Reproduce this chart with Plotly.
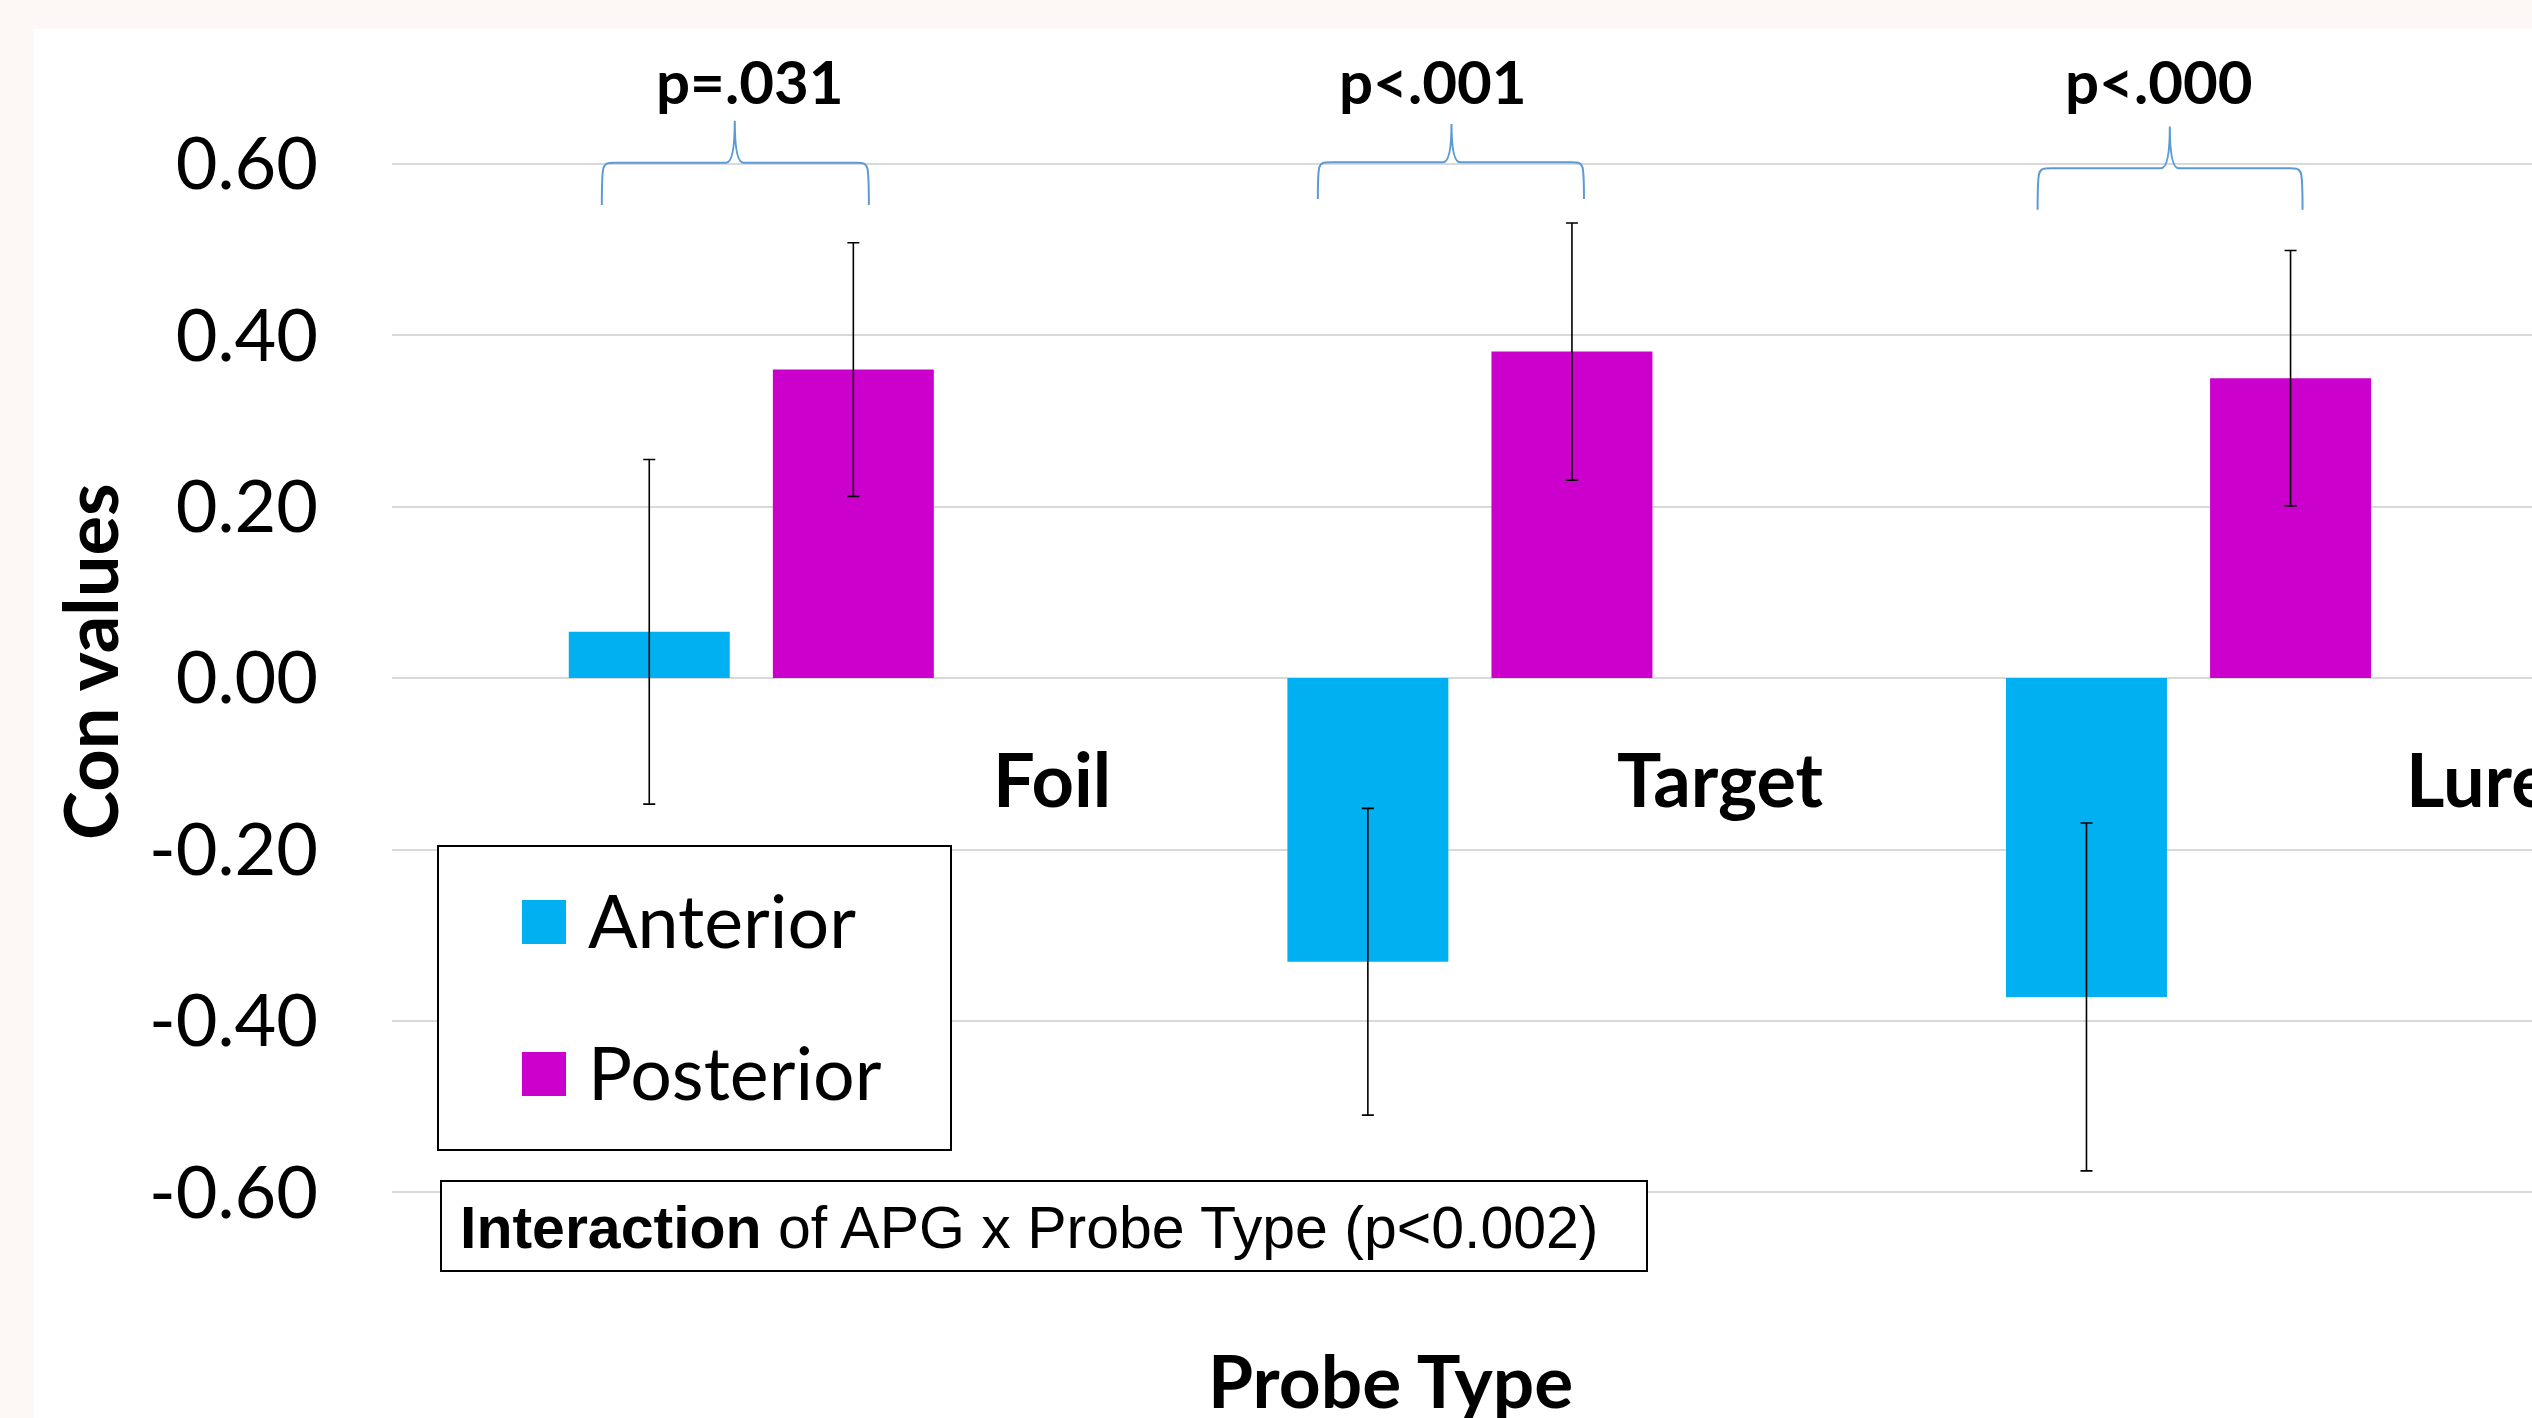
import plotly.graph_objects as go

# ---------------- data ----------------
categories = ["Foil", "Target", "Lure"]
series_names = ["Anterior", "Posterior"]
anterior = [0.054, -0.331, -0.372]
anterior_err = [0.201, 0.179, 0.203]
posterior = [0.360, 0.381, 0.350]
posterior_err = [0.148, 0.150, 0.149]
p_labels = ["p=.031", "p&lt;.001", "p&lt;.000"]
y_ticks = [-0.6, -0.4, -0.2, 0.0, 0.2, 0.4, 0.6]
y_tick_text = ["-0.60", "-0.40", "-0.20", "0.00", "0.20", "0.40", "0.60"]
y_title = "Con values"
x_title = "Probe Type"
note_bold = "Interaction"
note_rest = " of APG x Probe Type (p&lt;0.002)"

# ---------------- style ----------------
W, H = 2532, 1418
PL, PR, PT, PB = 392, 2532, 40, 1220
C_ANT = "#00B0F0"
C_POS = "#CC00CC"
BRACE = "#5B9BD5"
FONT = "Lato"
ARIAL = "Liberation Sans"


def px_x(px):
    return (px - PL) / (PR - PL)


def px_y(py):
    return (PB - py) / (PB - PT)


fig = go.Figure()
fig.add_trace(go.Bar(
    x=categories, y=anterior, name=series_names[0],
    marker=dict(color=C_ANT, line=dict(width=0)),
    width=0.224, offset=-0.254,
    error_y=dict(type="data", array=anterior_err, visible=True,
                 color="black", thickness=1.6, width=6),
    showlegend=False,
))
fig.add_trace(go.Bar(
    x=categories, y=posterior, name=series_names[1],
    marker=dict(color=C_POS, line=dict(width=0)),
    width=0.224, offset=0.030,
    error_y=dict(type="data", array=posterior_err, visible=True,
                 color="black", thickness=1.6, width=6),
    showlegend=False,
))

shapes = []
annotations = []

# white chart panel over beige page
shapes.append(dict(type="rect", xref="paper", yref="paper",
                   x0=px_x(34), x1=px_x(W + 10), y0=px_y(H + 10), y1=px_y(29),
                   fillcolor="white", line=dict(width=0), layer="below"))

# braces (x offsets relative to category index)
brace_geo = [
    # L, R, P, yline, yend, ypeak
    (-0.208, 0.1636, -0.023, 0.6014, 0.552, 0.6504),
    (-0.2116, 0.1587, -0.0256, 0.602, 0.559, 0.6467),
    (-0.210, 0.1587, -0.026, 0.595, 0.5465, 0.6435),
]
for i, (L, R, P, yl, ye, yp) in enumerate(brace_geo):
    xl, xr, xp = i + L, i + R, i + P
    d = 0.018
    dp = 0.012
    path = (f"M {xl},{ye} C {xl},{yl} {xl},{yl} {xl + d},{yl} "
            f"L {xp - dp},{yl} Q {xp},{yl} {xp},{yp} "
            f"Q {xp},{yl} {xp + dp},{yl} "
            f"L {xr - d},{yl} C {xr},{yl} {xr},{yl} {xr},{ye}")
    shapes.append(dict(type="path", xref="x", yref="y", path=path,
                       line=dict(color=BRACE, width=2)))

# p-value labels
p_off = [-0.002, -0.052, -0.041]
for i, lab in enumerate(p_labels):
    annotations.append(dict(x=i + p_off[i], y=0.697, xref="x", yref="y",
                            text=f"<b>{lab}</b>", showarrow=False,
                            font=dict(family=FONT, size=60, color="black"),
                            xanchor="center", yanchor="middle"))

# category labels
cat_off = [0.333, 0.2015, 0.300]
for i, c in enumerate(categories):
    annotations.append(dict(x=i + cat_off[i], y=-0.117, xref="x", yref="y",
                            text=f"<b>{c}</b>", showarrow=False,
                            font=dict(family=FONT, size=74, color="black"),
                            xanchor="left", yanchor="middle"))

# axis titles
annotations.append(dict(x=px_x(89), y=px_y(662), xref="paper", yref="paper",
                        text=f"<b>{y_title}</b>", textangle=-90, showarrow=False,
                        font=dict(family=FONT, size=74, color="black"),
                        xanchor="center", yanchor="middle"))
annotations.append(dict(x=px_x(1390), y=px_y(1380), xref="paper", yref="paper",
                        text=f"<b>{x_title}</b>", showarrow=False,
                        font=dict(family=FONT, size=73, color="black"),
                        xanchor="center", yanchor="middle"))

# legend box (manual, large swatches)
shapes.append(dict(type="rect", xref="paper", yref="paper",
                   x0=px_x(438), x1=px_x(951), y0=px_y(1150), y1=px_y(846),
                   fillcolor="white", line=dict(color="black", width=2)))
for k, (name, col, cy) in enumerate([(series_names[0], C_ANT, 922),
                                     (series_names[1], C_POS, 1074)]):
    shapes.append(dict(type="rect", xref="paper", yref="paper",
                       x0=px_x(522), x1=px_x(566), y0=px_y(cy + 22), y1=px_y(cy - 22),
                       fillcolor=col, line=dict(width=0)))
    annotations.append(dict(x=px_x(586), y=px_y(cy - 3), xref="paper", yref="paper",
                            text=name, showarrow=False,
                            font=dict(family=FONT, size=73.5, color="black"),
                            xanchor="left", yanchor="middle"))

# interaction note box
shapes.append(dict(type="rect", xref="paper", yref="paper",
                   x0=px_x(441), x1=px_x(1647), y0=px_y(1271), y1=px_y(1181),
                   fillcolor="white", line=dict(color="black", width=2)))
annotations.append(dict(x=px_x(458), y=px_y(1228), xref="paper", yref="paper",
                        text=f"<b>{note_bold}</b>{note_rest}", showarrow=False,
                        font=dict(family=ARIAL, size=59, color="black"),
                        xanchor="left", yanchor="middle"))

y_lo = (678.1 - PB) / 857.0
y_hi = (678.1 - PT) / 857.0

fig.update_layout(
    width=W, height=H,
    margin=dict(l=PL, r=W - PR, t=PT, b=H - PB, autoexpand=False),
    paper_bgcolor="#FDF8F5",
    plot_bgcolor="rgba(0,0,0,0)",
    barmode="group",
    showlegend=False,
    hovermode=False,
    xaxis=dict(type="category", range=[-0.5, 2.478], showticklabels=False,
               showgrid=False, zeroline=False, showline=False, ticks=""),
    yaxis=dict(range=[y_lo, y_hi], tickvals=y_ticks, ticktext=y_tick_text,
               showgrid=True, gridcolor="#D9D9D9", gridwidth=1.6,
               zeroline=False, showline=False, ticks="",
               ticklabelstandoff=73,
               tickfont=dict(family=FONT, size=72, color="black")),
    shapes=shapes,
    annotations=annotations,
)

fig.write_html("out.html", config={"displayModeBar": False})
